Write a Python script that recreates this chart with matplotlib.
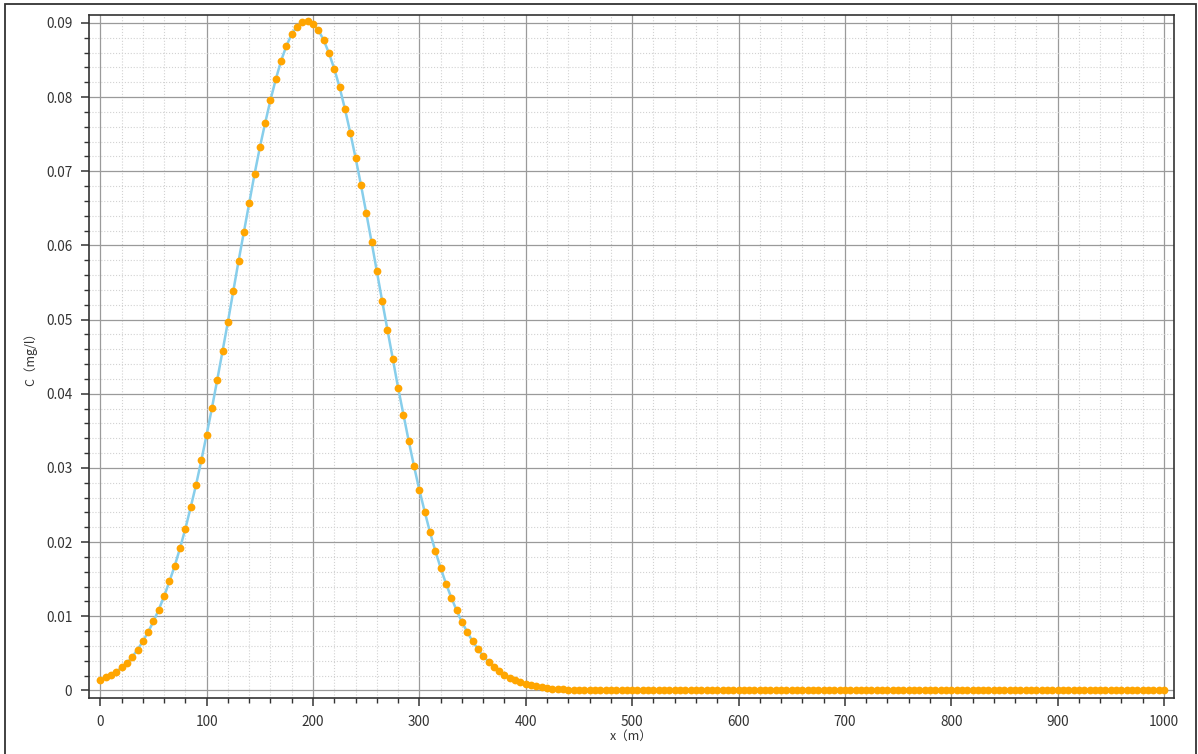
import matplotlib
matplotlib.use('Agg')
import matplotlib.pyplot as plt
from matplotlib.patches import Rectangle
from matplotlib.ticker import MultipleLocator, FuncFormatter

plt.rcParams['font.family'] = ['Noto Sans CJK SC', 'DejaVu Sans']

# Données : distance x (m), concentration C (mg/l)
x_m = list(range(0, 1001, 5))
c_rise = [
    0.00145, 0.00175, 0.0021, 0.0025, 0.0031, 0.0037, 0.0045, 0.0055, 0.0066, 0.0079,
    0.0093, 0.0109, 0.0127, 0.0147, 0.0168, 0.0192, 0.0218, 0.0247, 0.0277, 0.0310,
    0.0345, 0.0381, 0.0419, 0.0458, 0.0497, 0.0538, 0.0579, 0.0618, 0.0657, 0.0696,
    0.0732, 0.0765, 0.0796, 0.0824, 0.0849, 0.0869, 0.0885, 0.0895, 0.0901,
]
c_fall = [
    0.0902, 0.0899, 0.0890, 0.0877, 0.0859, 0.0838, 0.0813, 0.0784, 0.0752, 0.0718,
    0.0682, 0.0644, 0.0605, 0.0565, 0.0525, 0.0486, 0.0447, 0.0408, 0.0372, 0.0336,
    0.0302, 0.0270, 0.0241, 0.0213, 0.0188, 0.0165, 0.0144, 0.0125, 0.0108, 0.0092,
    0.0079, 0.0066, 0.0056, 0.0046, 0.0039, 0.0032, 0.0026, 0.0021, 0.0017, 0.0014,
    0.0011, 0.0009, 0.0007, 0.00055, 0.00042, 0.00032, 0.00024, 0.00018, 0.00013, 0.0001,
    0.00007, 0.00005, 0.00003, 0.00002, 0.00001,
]
c_tail = [
    0, 0, 0, 0, 0, 0, 0, 0, 0, 0, 0, 0, 0, 0, 0, 0, 0, 0, 0, 0, 0, 0, 0, 0, 0, 0, 0,
    0, 0, 0, 0, 0, 0, 0, 0, 0, 0, 0, 0, 0, 0, 0, 0, 0, 0, 0, 0, 0, 0, 0, 0, 0, 0, 0,
    0, 0, 0, 0, 0, 0, 0, 0, 0, 0, 0, 0, 0, 0, 0, 0, 0, 0, 0, 0, 0, 0, 0, 0, 0, 0, 0,
    0, 0, 0, 0, 0, 0, 0, 0, 0, 0, 0, 0, 0, 0, 0, 0, 0, 0, 0, 0, 0, 0, 0, 0, 0, 0,
]
c_mgl = c_rise + c_fall + c_tail
c_mgl = c_mgl[:len(x_m)]

fig = plt.figure(figsize=(11.98, 7.54), dpi=100)
ax = fig.add_axes([89 / 1198, 1 - 698 / 754, (1174 - 89) / 1198, (698 - 15) / 754])

ax.plot(x_m, c_mgl, color='#87CEEB', linewidth=1.8, zorder=3)
ax.plot(x_m, c_mgl, linestyle='none', marker='o', markersize=5.6,
        color='#FFA500', markeredgewidth=0, zorder=4)

ax.set_xlim(-10.6, 1009.4)
ax.set_ylim(-0.00102, 0.09106)

ax.xaxis.set_major_locator(MultipleLocator(100))
ax.xaxis.set_minor_locator(MultipleLocator(20))
ax.yaxis.set_major_locator(MultipleLocator(0.01))
ax.yaxis.set_minor_locator(MultipleLocator(0.002))
ax.yaxis.set_major_formatter(FuncFormatter(lambda v, p: f'{v:.2f}'.rstrip('0').rstrip('.') if abs(v) > 1e-9 else '0'))

ax.grid(which='major', color='#9a9a9a', linewidth=0.9, linestyle='-')
ax.grid(which='minor', color='#d2d2d2', linewidth=0.8, linestyle=':')
ax.set_axisbelow(True)

for s in ax.spines.values():
    s.set_color('#333333')
    s.set_linewidth(1.2)

ax.tick_params(which='major', direction='out', length=6, width=1.1, color='#333333',
               labelsize=9.8, labelcolor='#333333', pad=6)
ax.tick_params(which='minor', direction='out', length=3.5, width=1.0, color='#333333')

ax.set_xlabel('x（m）', fontsize=9, color='#333333', labelpad=1)
ax.set_ylabel('C（mg/l）', fontsize=9, color='#333333', labelpad=6)

fig.patches.append(Rectangle((5 / 1198, -0.01), (1196 - 5) / 1198, 1.01 - 4 / 754,
                             transform=fig.transFigure, fill=False,
                             edgecolor='#333333', linewidth=1.3))

fig.savefig('out.png', dpi=100, facecolor='white')
